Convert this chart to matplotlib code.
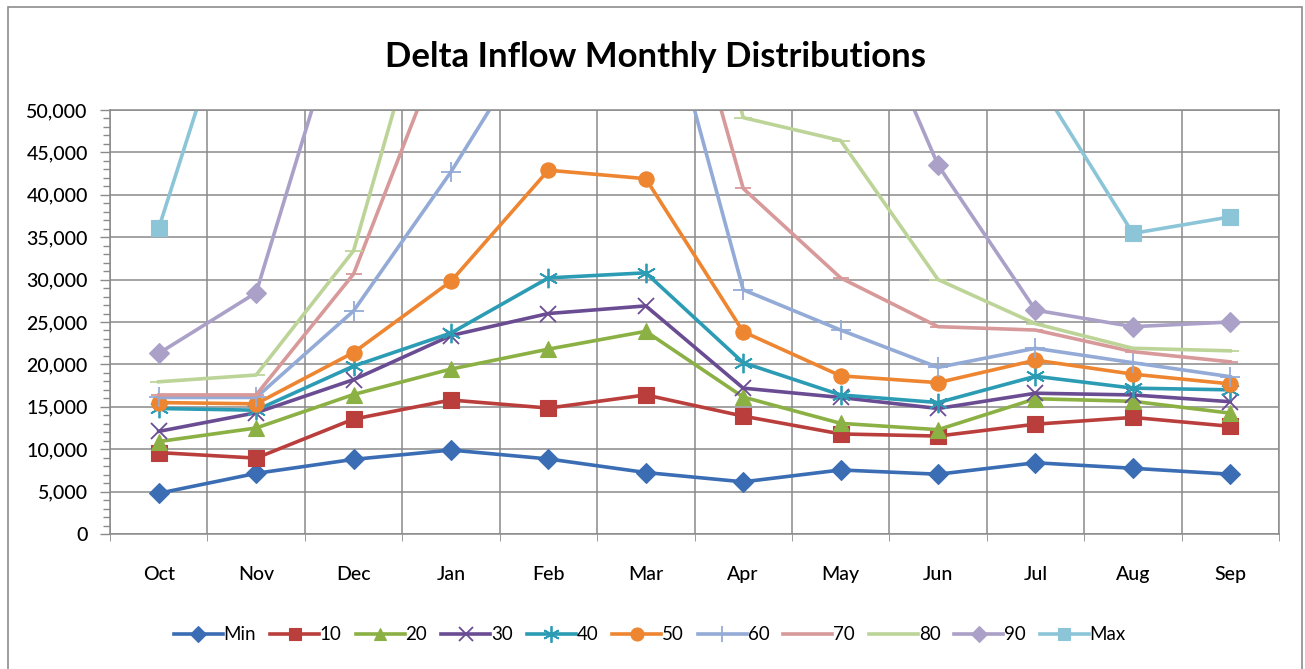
"""Monthly percentile distributions of Delta inflow, drawn as an Excel-style line chart."""

import matplotlib

matplotlib.use("Agg")
import matplotlib.patches as patches
import matplotlib.pyplot as plt
from matplotlib.ticker import FuncFormatter, MultipleLocator
import numpy as np

plt.rcParams["font.family"] = ["Lato", "DejaVu Sans"]

MONTHS = ["Oct", "Nov", "Dec", "Jan", "Feb", "Mar", "Apr", "May", "Jun", "Jul", "Aug", "Sep"]

# flows in cfs; the upper percentiles run far above the 50,000 axis limit in winter
flow_min = [4800, 7150, 8800, 9900, 8850, 7250, 6150, 7550, 7050, 8400, 7750, 7050]
flow_10 = [9600, 8950, 13550, 15800, 14850, 16400, 13900, 11800, 11550, 12950, 13750, 12700]
flow_20 = [10900, 12500, 16450, 19450, 21800, 23900, 16150, 13050, 12300, 15950, 15650, 14250]
flow_30 = [12100, 14300, 18200, 23400, 26000, 26900, 17200, 16100, 14800, 16600, 16400, 15600]
flow_40 = [14800, 14600, 19800, 23700, 30200, 30800, 20200, 16400, 15500, 18600, 17200, 17000]
flow_50 = [15500, 15350, 21400, 29800, 42900, 41900, 23850, 18650, 17850, 20500, 18850, 17700]
flow_60 = [16100, 16100, 26300, 42700, 61200, 71200, 28800, 24050, 19650, 21900, 20200, 18550]
flow_70 = [16400, 16400, 30650, 60200, 75000, 81600, 40750, 30200, 24450, 24050, 21500, 20300]
flow_80 = [17950, 18750, 33400, 73500, 90000, 95000, 49100, 46400, 30000, 24800, 21900, 21600]
flow_90 = [21300, 28450, 66100, 90000, 110000, 120000, 95000, 70200, 43500, 26400, 24450, 25000]
flow_max = [36050, 72100, 150000, 200000, 250000, 260000, 180000, 120000, 90000, 53900, 35450, 37400]

SERIES_LABELS = ["Min", "10", "20", "30", "40", "50", "60", "70", "80", "90", "Max"]

# Excel 2007 palette: six base colours, then lighter tints for the upper percentiles
STYLES = [
    ("#3A6DB3", "D", 10),
    ("#BA3F3C", "s", 11),
    ("#8BB043", "^", 11),
    ("#6A4C93", "x", 12),
    ("#2C9CB5", (6, 2, 0), 14),
    ("#EE8530", "o", 11),
    ("#93ABD6", "+", 14),
    ("#D8999A", "_", 11),
    ("#BDD498", "_", 13),
    ("#ABA0C8", "D", 10),
    ("#8CC5D8", "s", 11),
]


def thousands(value, _pos):
    return f"{int(value):,}"


def main() -> None:
    all_series = [flow_min, flow_10, flow_20, flow_30, flow_40, flow_50,
                  flow_60, flow_70, flow_80, flow_90, flow_max]

    fig = plt.figure(figsize=(13.05, 6.69), dpi=100)
    ax = fig.add_axes([110 / 1305, 135 / 669, 1169 / 1305, 424 / 669])

    x = np.arange(len(MONTHS))
    for values, label, (color, marker, size) in zip(all_series, SERIES_LABELS, STYLES):
        thin = marker in ("x", "+", "_") or isinstance(marker, tuple)
        ax.plot(
            x, values, color=color, linewidth=2.6, label=label,
            marker=marker, markersize=size,
            markerfacecolor=color, markeredgecolor=color,
            markeredgewidth=1.3 if thin else 0.8,
        )

    ax.set_xlim(-0.5, len(MONTHS) - 0.5)
    ax.set_ylim(0, 50000)

    ax.set_xticks(x)
    ax.set_xticklabels(MONTHS)
    ax.set_xticks(np.arange(-0.5, len(MONTHS), 1), minor=True)
    ax.tick_params(axis="x", which="major", length=0, pad=23, labelsize=14)
    ax.tick_params(axis="x", which="minor", length=5, color="#8a8a8a")

    ax.yaxis.set_major_locator(MultipleLocator(5000))
    ax.yaxis.set_minor_locator(MultipleLocator(1000))
    ax.yaxis.set_major_formatter(FuncFormatter(thousands))
    ax.tick_params(axis="y", which="major", length=7, width=1, color="#8a8a8a", pad=9, labelsize=14)
    ax.tick_params(axis="y", which="minor", length=5, width=1, color="#8a8a8a")
    for label in ax.get_xticklabels() + ax.get_yticklabels():
        label.set_fontweight("medium")

    ax.grid(which="major", axis="y", color="#8a8a8a", linewidth=1.1)
    ax.grid(which="minor", axis="x", color="#8a8a8a", linewidth=1.1)
    ax.set_axisbelow(True)
    for spine in ax.spines.values():
        spine.set_color("#8a8a8a")
        spine.set_linewidth(1.1)

    fig.text(0.502, 0.915, "Delta Inflow Monthly Distributions",
             ha="center", va="center", fontsize=25, fontweight="bold")

    fig.legend(
        loc="center", bbox_to_anchor=(0.498, 0.051), ncol=len(SERIES_LABELS),
        frameon=False, fontsize=13.5, handlelength=2.6, handletextpad=0.05,
        columnspacing=0.75, markerscale=0.85,
    )

    # thin grey frame round the whole chart
    fig.patches.append(
        patches.Rectangle(
            (8 / 1305, -0.01), 1294 / 1305, 662 / 669 + 0.01,
            transform=fig.transFigure, fill=False,
            edgecolor="#8c8c8c", linewidth=1.2,
        )
    )

    fig.savefig("out.png", dpi=100)
    plt.close(fig)


if __name__ == "__main__":
    main()
